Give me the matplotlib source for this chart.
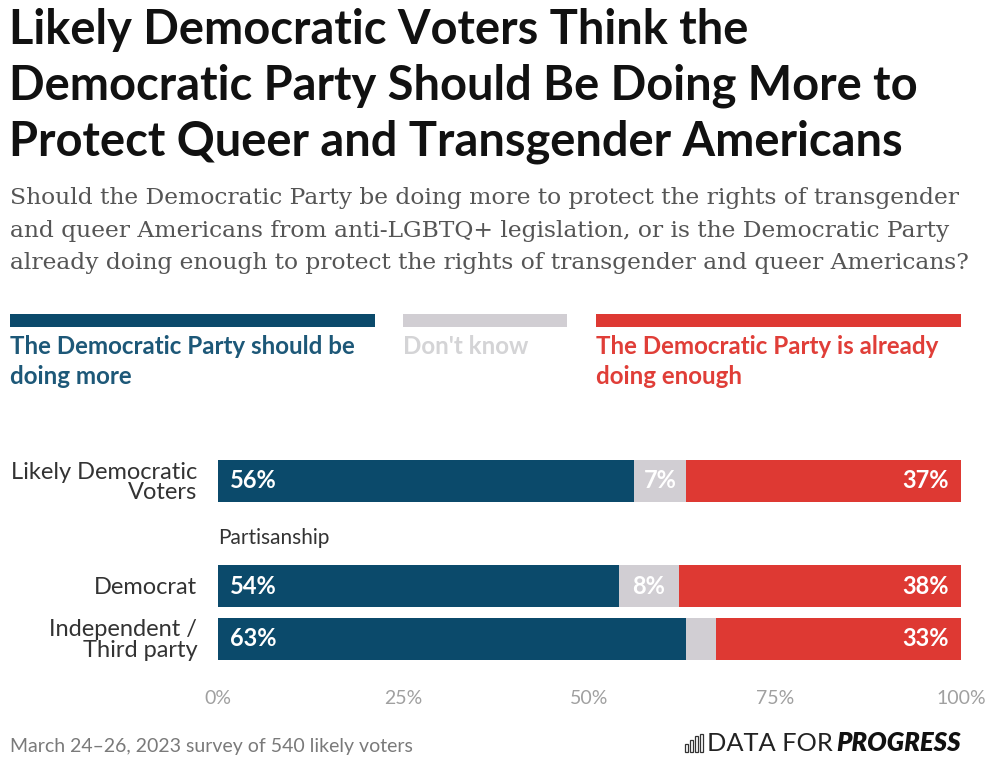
import matplotlib
matplotlib.use("Agg")
import matplotlib.pyplot as plt
import matplotlib.transforms as mtransforms
from matplotlib.patches import Rectangle

# ---- data ----
categories = ["Likely Democratic\nVoters", "Democrat", "Independent /\nThird party"]
positions = [0, 2, 3]
doing_more = [56, 54, 63]
dont_know = [7, 8, 4]
doing_enough = [37, 38, 33]
dk_labels = ["7%", "8%", ""]
tick_vals = [0, 25, 50, 75, 100]
tick_labels = ["0%", "25%", "50%", "75%", "100%"]
series_names = ["The Democratic Party should be\ndoing more", "Don't know",
                "The Democratic Party is already\ndoing enough"]
title_lines = ["Likely Democratic Voters Think the",
               "Democratic Party Should Be Doing More to",
               "Protect Queer and Transgender Americans"]
subtitle_lines = ["Should the Democratic Party be doing more to protect the rights of transgender",
                  "and queer Americans from anti-LGBTQ+ legislation, or is the Democratic Party",
                  "already doing enough to protect the rights of transgender and queer Americans?"]

BLUE = "#0b4a6b"
GREY = "#d1ced3"
RED = "#de3933"
W, H = 1000, 778
SANS = "Lato"

fig = plt.figure(figsize=(W / 100, H / 100), dpi=100)
fig.patch.set_facecolor("white")

def fx(px):
    return px / W

def fy(py):
    return 1 - py / H

def lines_at(x, baselines, lines, **kw):
    for b, s in zip(baselines, lines):
        fig.text(fx(x), fy(b), s, va="baseline", **kw)

# title
lines_at(9, [44, 100, 156], title_lines, ha="left", fontsize=33.8, fontweight="bold",
         family=SANS, color="#111111")
# subtitle
lines_at(10, [204, 236.5, 269], subtitle_lines, ha="left", fontsize=16.8,
         family="DejaVu Serif", color="#555555")

# legend
leg = [(10, 375, BLUE, "#1d5878"), (403, 567, GREY, "#d4d4d6"), (596, 961, RED, "#e03e38")]
for (x0, x1, c, tc), name in zip(leg, series_names):
    fig.patches.append(Rectangle((fx(x0), fy(327)), fx(x1 - x0), 13 / H,
                                 transform=fig.transFigure, color=c, lw=0))
    lines_at(x0, [354, 384], name.split("\n"), ha="left", fontsize=17.4, fontweight="bold",
             family=SANS, color=tc)

# bars
unit = 52.5
ax = fig.add_axes([fx(218), fy(481 + 3.5 * unit), fx(961 - 218), 4 * unit / H])
left2 = [a + b for a, b in zip(doing_more, dont_know)]
ax.barh(positions, doing_more, height=0.8, color=BLUE, lw=0)
ax.barh(positions, dont_know, left=doing_more, height=0.8, color=GREY, lw=0)
ax.barh(positions, doing_enough, left=left2, height=0.8, color=RED, lw=0)
for p, dm, dk, de, l2, dkl in zip(positions, doing_more, dont_know, doing_enough, left2, dk_labels):
    ax.text(1.6, p, f"{dm}%", ha="left", va="center", color="white", fontsize=17,
            fontweight="bold", family=SANS)
    ax.text(dm + dk / 2, p, dkl, ha="center", va="center", color="white", fontsize=17,
            fontweight="bold", family=SANS)
    ax.text(98.4, p, f"{de}%", ha="right", va="center", color="white", fontsize=17,
            fontweight="bold", family=SANS)
ax.text(0, 1.08, "Partisanship", ha="left", va="center", fontsize=15, family=SANS,
        color="#333333")
ax.set_xlim(0, 100)
ax.set_ylim(3.5, -0.5)
ax.set_yticks(positions)
ax.set_yticklabels(categories, fontsize=17, family=SANS, color="#333333", linespacing=0.95)
ax.set_xticks(tick_vals)
ax.set_xticklabels(tick_labels, fontsize=14, family=SANS, color="#a0a0a0")
shift = mtransforms.ScaledTranslation(6 / 100, 0, fig.dpi_scale_trans)
for lab in ax.get_xticklabels():
    lab.set_transform(lab.get_transform() + shift)
ax.tick_params(axis="both", length=0)
ax.tick_params(axis="y", pad=15)
ax.tick_params(axis="x", pad=18)
for s in ax.spines.values():
    s.set_visible(False)

# footer
fig.text(fx(10), fy(752), "March 24\u201326, 2023 survey of 540 likely voters", ha="left",
         va="baseline", fontsize=14, family=SANS, color="#7a7a7a")
fig.text(fx(961), fy(751), "PROGRESS", ha="right", va="baseline", fontsize=18.5,
         fontweight="heavy", style="italic", family=SANS, color="#111111")
fig.text(fx(833), fy(751), "DATA FOR", ha="right", va="baseline", fontsize=18.3,
         fontweight="normal", family=SANS, color="#222222")
for i, hgt in enumerate([8, 12, 16, 18]):
    fig.patches.append(Rectangle((fx(685 + i * 5), fy(752)), fx(3.2), hgt / H,
                                 transform=fig.transFigure, facecolor="none",
                                 edgecolor="#333333", lw=0.9))

fig.savefig("out.png", dpi=100)
